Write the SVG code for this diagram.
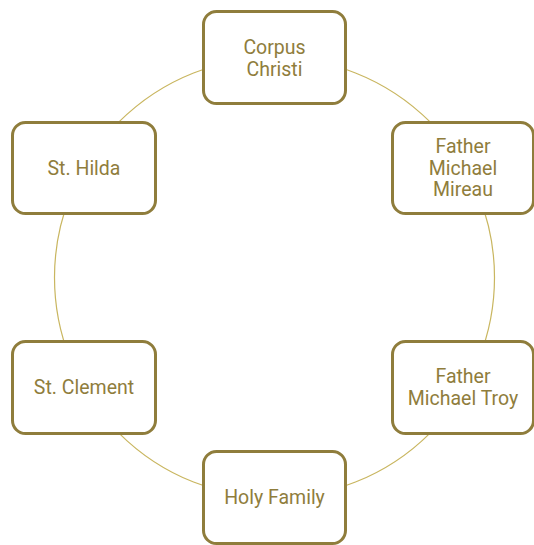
<svg xmlns="http://www.w3.org/2000/svg" width="534" height="545" viewBox="0 0 534 545">
<style>
.node rect{fill:#fff;stroke:#8f7d3c;stroke-width:3}
.node text{fill:#8f7d3c;font-family:Roboto,"Liberation Sans",sans-serif;font-size:19.5px;text-anchor:middle}
.conn{fill:none;stroke:#c9b660;stroke-width:1.2}
</style>
<rect width="534" height="545" fill="#fff"/>
<g id="connectors">
<circle class="conn" cx="274.5" cy="277.5" r="220"/>
</g>
<g id="corpus-christi" class="node">
<rect x="203.5" y="11.5" width="142" height="92" rx="13"/>
<text x="274.5" y="54">Corpus</text>
<text x="274.5" y="76">Christi</text>
</g>
<g id="father-michael-mireau" class="node">
<rect x="392.5" y="122.5" width="141" height="91" rx="13"/>
<text x="463" y="153">Father</text>
<text x="463" y="175">Michael</text>
<text x="463" y="196">Mireau</text>
</g>
<g id="father-michael-troy" class="node">
<rect x="392.5" y="341.5" width="141" height="92" rx="13"/>
<text x="463" y="383">Father</text>
<text x="463" y="405">Michael Troy</text>
</g>
<g id="holy-family" class="node">
<rect x="203.5" y="451.5" width="142" height="92" rx="13"/>
<text x="274.5" y="504">Holy Family</text>
</g>
<g id="st-clement" class="node">
<rect x="12.5" y="341.5" width="143" height="92" rx="13"/>
<text x="84" y="394">St. Clement</text>
</g>
<g id="st-hilda" class="node">
<rect x="12.5" y="122.5" width="143" height="91" rx="13"/>
<text x="84" y="175">St. Hilda</text>
</g>
</svg>
